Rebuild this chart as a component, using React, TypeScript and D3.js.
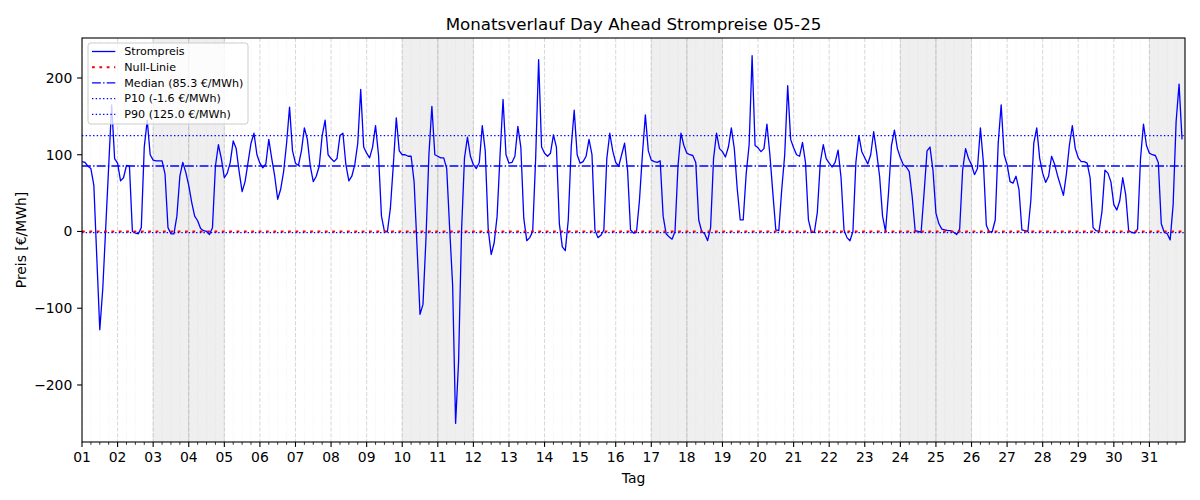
import React from 'react';
import * as d3 from 'd3';

const TITLE = 'Monatsverlauf Day Ahead Strompreise 05-25';
const X_LABEL = 'Tag';
const Y_LABEL = 'Preis [€/MWh]';

const DAY_LABELS = ['01','02','03','04','05','06','07','08','09','10','11','12','13','14','15','16','17','18','19','20','21','22','23','24','25','26','27','28','29','30','31'];
const HOURS = [0, 2, 4, 6, 8, 10, 12, 14, 16, 18, 20, 22];
const Y_TICKS = [-200, -100, 0, 100, 200];
const Y_DOMAIN = [-274.3, 252.1];
const WEEKEND_DAYS = [3, 4, 10, 11, 17, 18, 24, 25, 31];

const MEDIAN = 85.3;
const P10 = -1.6;
const P90 = 125.0;

// prices, one row per day, values at HOURS
const PRICES = [
  91, 90, 85, 82, 60, -35, -128, -75, 5, 85, 165, 95,
  89, 66, 70, 86, 85, 0, -2, -3, 5, 110, 145, 100,
  93, 92, 92, 92, 75, 5, -3, -3, 20, 72, 90, 77,
  60, 38, 20, 14, 4, 1, 0, -4, 5, 85, 113, 95,
  70, 76, 90, 118, 108, 78, 52, 65, 90, 115, 128, 100,
  89, 83, 88, 120, 95, 72, 42, 55, 78, 115, 162, 105,
  89, 86, 105, 135, 120, 85, 65, 72, 85, 125, 145, 100,
  95, 91, 95, 125, 128, 87, 66, 72, 87, 115, 185, 110,
  102, 96, 110, 138, 100, 20, 0, 0, 30, 87, 148, 105,
  100, 100, 98, 98, 65, -20, -108, -95, -10, 100, 163, 100,
  98, 96, 96, 82, 4, -70, -250, -170, 0, 96, 123, 98,
  87, 82, 90, 138, 105, 3, -30, -15, 20, 100, 172, 100,
  89, 90, 98, 137, 110, 17, -12, -8, 0, 95, 224, 110,
  102, 98, 102, 126, 110, 10, -20, -25, 15, 110, 158, 100,
  89, 91, 98, 120, 100, 2, -8, -5, 2, 95, 128, 105,
  90, 85, 100, 115, 80, 2, -2, -1, 40, 100, 152, 105,
  93, 91, 90, 92, 20, -3, -7, -10, 0, 85, 128, 112,
  102, 100, 99, 90, 15, 0, -3, -12, 5, 95, 128, 108,
  104, 97, 110, 135, 108, 55, 15, 15, 75, 113, 229, 112,
  109, 104, 108, 140, 100, 50, 2, 1, 55, 100, 190, 120,
  109, 100, 98, 116, 90, 15, -1, -1, 25, 90, 113, 95,
  89, 84, 90, 106, 70, 2, -8, -12, 0, 90, 125, 104,
  96, 88, 100, 130, 103, 72, 20, 0, 50, 112, 132, 108,
  96, 87, 84, 78, 45, 1, 0, -1, 50, 105, 110, 80,
  24, 10, 3, 2, 1, 1, -1, -4, 3, 80, 108, 95,
  87, 74, 82, 135, 90, 8, -1, 0, 15, 115, 165, 100,
  87, 65, 63, 72, 55, 2, 1, 0, 40, 115, 135, 95,
  76, 64, 72, 98, 88, 73, 60, 47, 75, 112, 138, 108,
  96, 91, 91, 89, 70, 5, 1, 0, 26, 80, 76, 65,
  35, 28, 40, 70, 48, 1, -1, -2, 3, 95, 140, 112,
  102, 100, 99, 90, 10, -1, -3, -11, 35, 143, 192, 120,
];

const LEGEND = [
  { label: 'Strompreis', color: '#0000ff', width: 1.3, dash: '' },
  { label: 'Null-Linie', color: '#ff0000', width: 2, dash: '2.78,4.58' },
  { label: 'Median (85.3 €/MWh)', color: '#0000ff', width: 1.3, dash: '8.9,2.2,1.4,2.2' },
  { label: 'P10 (-1.6 €/MWh)', color: '#0000ff', width: 1.3, dash: '1.39,2.29' },
  { label: 'P90 (125.0 €/MWh)', color: '#0000ff', width: 1.3, dash: '1.39,2.29' },
];

const FONT = 'DejaVu Sans, sans-serif';

export default function App() {
  const W = 1200, H = 500;
  const L = 82, R = 1185, T = 38, B = 442;
  const x = d3.scaleLinear().domain([1, 32]).range([L, R]);
  const y = d3.scaleLinear().domain(Y_DOMAIN).range([B, T]);

  const points = PRICES.map((v, i) => ({
    t: 1 + Math.floor(i / HOURS.length) + HOURS[i % HOURS.length] / 24,
    v,
  }));
  const line = d3.line<{ t: number; v: number }>().x(d => x(d.t)).y(d => y(d.v));

  const majorDays = DAY_LABELS.map((_, i) => i + 1);
  const minor: number[] = [];
  for (let d = 1; d < 32; d++) for (let q = 1; q < 4; q++) minor.push(d + q / 4);

  const hl = (v: number) => y(v);

  return (
    <svg width={W} height={H} style={{ display: 'block', position: 'absolute', left: 0, top: 0 }} fontFamily={FONT}>
      <rect x={0} y={0} width={W} height={H} fill="#ffffff" />
      <defs>
        <clipPath id="plot">
          <rect x={L} y={T} width={R - L} height={B - T} />
        </clipPath>
      </defs>
      <g clipPath="url(#plot)">
        {WEEKEND_DAYS.map(d => (
          <rect key={'w' + d} x={x(d)} y={T} width={x(d + 1) - x(d)} height={B - T}
            fill="#808080" fillOpacity={0.13} stroke="#808080" strokeOpacity={0.13} strokeWidth={1} />
        ))}
        {minor.map(m => (
          <line key={'m' + m} x1={x(m)} x2={x(m)} y1={T} y2={B} stroke="#b0b0b0" strokeOpacity={0.3}
            strokeWidth={0.6} strokeDasharray="0.83,1.37" />
        ))}
        {majorDays.map(d => (
          <line key={'g' + d} x1={x(d)} x2={x(d)} y1={T} y2={B} stroke="#b0b0b0" strokeOpacity={0.5}
            strokeWidth={1} strokeDasharray="4.1,1.8" />
        ))}
        <path d={line(points) || ''} fill="none" stroke="#0000ff" strokeWidth={1.3} strokeLinejoin="round" />
        <line x1={L} x2={R} y1={hl(0)} y2={hl(0)} stroke="#ff0000" strokeWidth={2.2} strokeDasharray="2.78,4.58" />
        <line x1={L} x2={R} y1={hl(MEDIAN)} y2={hl(MEDIAN)} stroke="#0000ff" strokeWidth={1.4} strokeDasharray="8.9,2.2,1.4,2.2" />
        <line x1={L} x2={R} y1={hl(P10)} y2={hl(P10)} stroke="#0000ff" strokeWidth={1.2} strokeDasharray="1.39,2.29" />
        <line x1={L} x2={R} y1={hl(P90)} y2={hl(P90)} stroke="#0000ff" strokeWidth={1.2} strokeDasharray="1.39,2.29" />
      </g>

      {/* frame */}
      <rect x={L} y={T} width={R - L} height={B - T} fill="none" stroke="#000" strokeWidth={1.1} />

      {/* x ticks */}
      {majorDays.map((d, i) => (
        <g key={'xt' + d}>
          <line x1={x(d)} x2={x(d)} y1={B} y2={B + 4.9} stroke="#000" strokeWidth={1.1} />
          <text x={x(d)} y={B + 9.7} dy="0.76em" textAnchor="middle" fontSize={13.9} fill="#000">{DAY_LABELS[i]}</text>
        </g>
      ))}
      {minor.map(m => (
        <line key={'xm' + m} x1={x(m)} x2={x(m)} y1={B} y2={B + 2.8} stroke="#000" strokeWidth={0.8} />
      ))}

      {/* y ticks */}
      {Y_TICKS.map(v => (
        <g key={'yt' + v}>
          <line x1={L - 4.9} x2={L} y1={y(v)} y2={y(v)} stroke="#000" strokeWidth={1.1} />
          <text x={L - 9.7} y={y(v)} dy="0.35em" textAnchor="end" fontSize={13.9} fill="#000">
            {v < 0 ? '\u2212' + Math.abs(v) : String(v)}
          </text>
        </g>
      ))}

      <text x={(L + R) / 2} y={T - 8.3} textAnchor="middle" fontSize={16.7} fill="#000">{TITLE}</text>
      <text x={(L + R) / 2} y={483} textAnchor="middle" fontSize={13.9} fill="#000">{X_LABEL}</text>
      <text transform={`translate(${26},${(T + B) / 2}) rotate(-90)`} textAnchor="middle" fontSize={13.9} fill="#000">{Y_LABEL}</text>

      {/* legend */}
      <g>
        <rect x={88} y={43} width={160} height={81} rx={2.8} fill="#ffffff" fillOpacity={0.8} stroke="#cccccc" strokeWidth={1} />
        {LEGEND.map((e, i) => {
          const ly = 51.5 + i * 15.7;
          return (
            <g key={e.label}>
              <line x1={92} x2={115.3} y1={ly} y2={ly} stroke={e.color} strokeWidth={e.width} strokeDasharray={e.dash || undefined} />
              <text x={124.3} y={ly} dy="0.35em" fontSize={11.1} fill="#000">{e.label}</text>
            </g>
          );
        })}
      </g>
    </svg>
  );
}
